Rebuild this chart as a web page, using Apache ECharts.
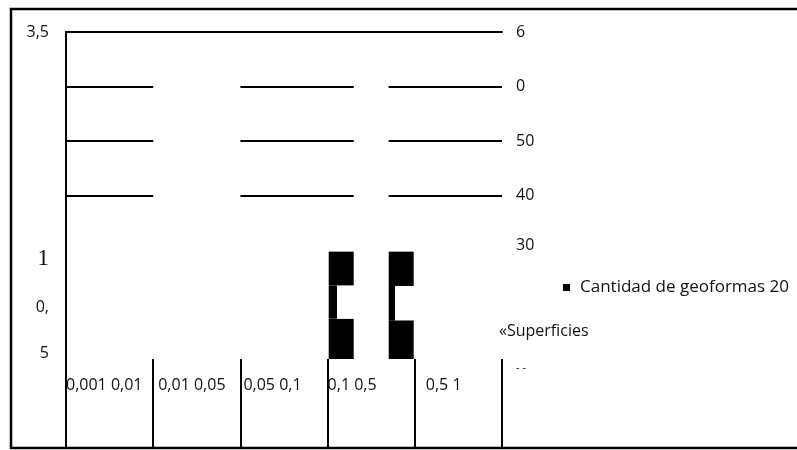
<!DOCTYPE html>
<html>
<head>
<meta charset="utf-8">
<script src="https://cdn.jsdelivr.net/npm/echarts@6/dist/echarts.min.js"></script>
<style>html,body{margin:0;padding:0;background:#fff;}#c{width:797px;height:450px;}</style>
</head>
<body>
<div id="c"></div>
<script>
// ---- data ----
const categories = ['0,001 0,01', '0,01 0,05', '0,05 0,1', '0,1 0,5', '0,5 1'];
const stackABottom = [null, null, null, 7.4, null];
const stackAMiddle = [null, null, null, 6.1, null];
const stackATop    = [null, null, null, 6.2, null];
const stackBBottom = [null, null, null, 7.1, null];
const stackBMiddle = [null, null, null, 6.3, null];
const stackBTop    = [null, null, null, 6.3, null];
const gridLevels = [50, 40, 30];
const gridSpans = [[0, 1], [2, 3.3], [3.7, 5]];
const leftTickValues = [3.5, 1, 0.5, 0];
const leftTickLabels = ['3,5', '1', '0,', '5'];
const rightTickValues = [60, 50, 40, 30, 20, 0];
const rightTickLabels = ['6', '0', '50', '40', '30', '- -'];
const seriesNameBars = 'Cantidad de geoformas 20';
const seriesNameSurf = '«Superficies';

// ---- chart ----
const FONT = 'Open Sans';
const FS = 16;
const chart = echarts.init(document.getElementById('c'), null, {renderer: 'canvas'});

function notchGradient(stop) {
  return new echarts.graphic.LinearGradient(0, 0, 1, 0, [
    {offset: 0, color: '#000'}, {offset: stop, color: '#000'},
    {offset: stop, color: '#fff'}, {offset: 1, color: '#fff'}
  ]);
}

const leftStyleKey = {'3,5': 'n', '1': 'big', '0,': 'up4', '5': 'up6'};
const rightStyleKey = {'30': 'up5', '- -': 'down9'};
const catStyleKey = ['n', 'p5', 'p3', 'n', 'p11'];

const gridLinesData = [];
gridLevels.forEach(function (lv) {
  gridSpans.forEach(function (sp) {
    gridLinesData.push({coords: [[sp[0], lv], [sp[1], lv]]});
  });
});

const barCommon = {
  type: 'bar', xAxisIndex: 0, yAxisIndex: 1, barWidth: 25, barGap: '140%',
  itemStyle: {color: '#000'}, emphasis: {disabled: true}
};

const option = {
  animation: false,
  backgroundColor: '#fff',
  textStyle: {fontFamily: FONT},
  grid: {left: 66, right: 295, top: 32, bottom: 91, containLabel: false},
  graphic: [{
    type: 'rect', z: 100, silent: true,
    shape: {x: 11, y: 9, width: 800, height: 439},
    style: {fill: 'none', stroke: '#000', lineWidth: 2.5}
  }],
  legend: [{
    data: [{name: seriesNameBars, icon: 'rect'}],
    left: 496, top: 251, orient: 'vertical',
    padding: [28, 10, 60, 67],
    backgroundColor: '#fff', z: 6,
    itemWidth: 7, itemHeight: 7, selectedMode: false,
    itemStyle: {color: '#000'},
    textStyle: {fontFamily: FONT, fontSize: 17, color: '#111', padding: [0, 0, 0, 5]}
  }, {
    data: [{name: seriesNameSurf, icon: 'none'}],
    left: 494, top: 323, orient: 'vertical', padding: 0, z: 7,
    itemWidth: 0, itemHeight: 7, selectedMode: false,
    textStyle: {fontFamily: FONT, fontSize: 16, color: '#111'}
  }],
  xAxis: [{
    type: 'category', data: categories, position: 'bottom',
    axisLine: {show: false}, axisTick: {show: false}, axisLabel: {show: false}, splitLine: {show: false}
  }, {
    type: 'value', min: 0, max: 5, interval: 1, position: 'bottom',
    axisLine: {show: false},
    axisTick: {show: true, length: 89, lineStyle: {color: '#000', width: 2}},
    splitLine: {show: false},
    axisLabel: {
      show: true, align: 'left', margin: 18, color: '#111', fontFamily: FONT, fontSize: FS,
      showMinLabel: true, showMaxLabel: true,
      formatter: function (v) {
        const i = Math.round(v);
        if (i < 0 || i >= categories.length) return '';
        return '{' + catStyleKey[i] + '|' + categories[i] + '}';
      },
      rich: {
        n: {fontFamily: FONT, fontSize: FS, color: '#111'},
        p3: {fontFamily: FONT, fontSize: FS, color: '#111', padding: [0, 0, 0, 3]},
        p5: {fontFamily: FONT, fontSize: FS, color: '#111', padding: [0, 0, 0, 5]},
        p11: {fontFamily: FONT, fontSize: FS, color: '#111', padding: [0, 0, 0, 11]}
      }
    }
  }, {
    type: 'value', min: 0, max: 5, position: 'top',
    axisLine: {show: true, lineStyle: {color: '#000', width: 2}},
    axisTick: {show: false}, axisLabel: {show: false}, splitLine: {show: false}
  }],
  yAxis: [{
    type: 'value', min: 0, max: 3.5, interval: 0.5, position: 'left',
    axisLine: {show: true, lineStyle: {color: '#000', width: 2}},
    axisTick: {show: false}, splitLine: {show: false},
    axisLabel: {
      margin: 17, color: '#111', fontFamily: FONT, fontSize: FS,
      showMinLabel: true, showMaxLabel: true,
      formatter: function (v) {
        const i = leftTickValues.indexOf(v);
        if (i < 0) return '';
        const t = leftTickLabels[i];
        return '{' + (leftStyleKey[t] || 'n') + '|' + t + '}';
      },
      rich: {
        n: {fontFamily: FONT, fontSize: FS, color: '#111'},
        big: {fontFamily: 'Liberation Serif', fontSize: 23, color: '#111', padding: [0, 0, 13, 0]},
        up4: {fontFamily: FONT, fontSize: FS, color: '#111', padding: [0, 0, 9, 0]},
        up6: {fontFamily: FONT, fontSize: FS, color: '#111', padding: [0, 0, 12, 0]}
      }
    }
  }, {
    type: 'value', min: 0, max: 60, interval: 10, position: 'right',
    axisLine: {show: true, lineStyle: {color: '#000', width: 2}},
    axisTick: {show: false}, splitLine: {show: false},
    axisLabel: {
      margin: 14, color: '#111', fontFamily: FONT, fontSize: FS,
      showMinLabel: true, showMaxLabel: true,
      formatter: function (v) {
        const i = rightTickValues.indexOf(v);
        if (i < 0) return '';
        const t = rightTickLabels[i];
        return '{' + (rightStyleKey[t] || 'n') + '|' + t + '}';
      },
      rich: {
        n: {fontFamily: FONT, fontSize: FS, color: '#111'},
        up5: {fontFamily: FONT, fontSize: FS, color: '#111', padding: [0, 0, 10, 0]},
        down9: {fontFamily: FONT, fontSize: 11, color: '#111', padding: [18, 0, 0, 0]}
      }
    }
  }],
  series: [
    Object.assign({}, barCommon, {name: seriesNameBars, stack: 'a', data: stackABottom}),
    Object.assign({}, barCommon, {name: seriesNameSurf, stack: 'a', data: stackAMiddle,
      itemStyle: {color: notchGradient(0.33)}}),
    Object.assign({}, barCommon, {name: seriesNameBars, stack: 'a', data: stackATop}),
    Object.assign({}, barCommon, {name: seriesNameBars, stack: 'b', data: stackBBottom}),
    Object.assign({}, barCommon, {name: seriesNameSurf, stack: 'b', data: stackBMiddle,
      itemStyle: {color: notchGradient(0.24)}}),
    Object.assign({}, barCommon, {name: seriesNameBars, stack: 'b', data: stackBTop}),
    {
      type: 'lines', name: 'grid', coordinateSystem: 'cartesian2d', xAxisIndex: 1, yAxisIndex: 1,
      silent: true, polyline: false, z: 1,
      lineStyle: {color: '#000', width: 2, opacity: 1, curveness: 0},
      data: gridLinesData
    }
  ]
};
chart.setOption(option);
</script>
</body>
</html>
